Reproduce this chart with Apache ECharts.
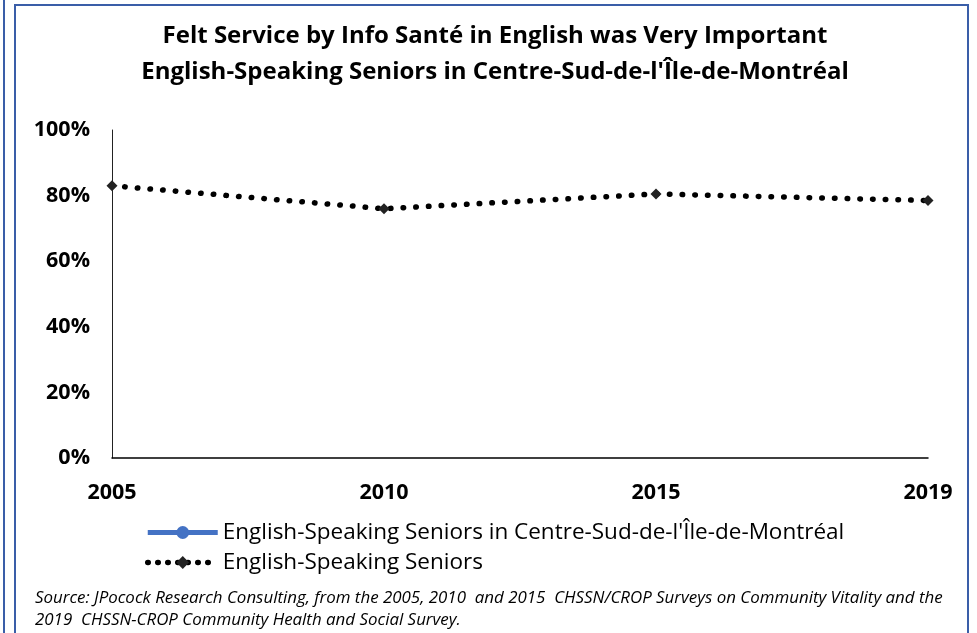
<!DOCTYPE html>
<html><head><meta charset="utf-8">
<script src="https://cdn.jsdelivr.net/npm/echarts@6/dist/echarts.min.js"></script>
<style>html,body{margin:0;padding:0;background:#fff}#c{width:977px;height:633px}</style>
</head><body><div id="c"></div>
<script>
const categories = ['2005', '2010', '2015', '2019'];
const regionValues = [null, null, null, null];
const seniorsValues = [83, 76, 80.5, 78.5];
const seriesNames = ["English-Speaking Seniors in Centre-Sud-de-l'Île-de-Montréal", 'English-Speaking Seniors'];
const titleLines = ['Felt Service by Info Santé in English was Very Important', "English-Speaking Seniors in Centre-Sud-de-l'Île-de-Montréal"];
const sourceLines = ['Source: JPocock Research Consulting, from the 2005, 2010  and 2015  CHSSN/CROP Surveys on Community Vitality and the', '2019  CHSSN-CROP Community Health and Social Survey.'];

const font = '"Open Sans", sans-serif';
const chart = echarts.init(document.getElementById('c'));
chart.setOption({
  animation: false,
  title: {
    text: titleLines.join('\n'),
    left: 490, top: 13, textAlign: 'center',
    textStyle: { fontFamily: font, fontSize: 24, fontWeight: 'bold', color: '#000', lineHeight: 36 }
  },
  grid: { left: 112, right: 49, top: 130, bottom: 175 },
  xAxis: {
    type: 'category', data: categories, boundaryGap: false,
    axisLine: { lineStyle: { color: '#000', width: 1.5 } },
    axisTick: { show: false },
    axisLabel: { fontFamily: font, fontSize: 21.5, fontWeight: 'bold', color: '#000', margin: 24 }
  },
  yAxis: {
    type: 'value', min: 0, max: 100, interval: 20,
    axisLine: { show: true, lineStyle: { color: '#222', width: 1 } },
    axisTick: { show: false },
    splitLine: { show: false },
    axisLabel: { fontFamily: font, fontSize: 21.5, fontWeight: 'bold', color: '#000', margin: 22, formatter: '{value}%' }
  },
  legend: {
    orient: 'vertical', left: 140, top: 516, itemGap: 7, itemWidth: 70, itemHeight: 16,
    textStyle: { fontFamily: font, fontSize: 22.5, color: '#000' },
    data: [
      { name: seriesNames[0], lineStyle: { width: 5 } },
      { name: seriesNames[1], lineStyle: { type: [0.5, 9.5], width: 5.5, cap: 'round' } }
    ]
  },
  graphic: [
    { type: 'line', shape: { x1: 4, y1: 0, x2: 4, y2: 633 }, style: { stroke: '#3a5ea8', lineWidth: 2 } },
    { type: 'polyline', shape: { points: [[15, 633], [15, 5], [968, 5], [968, 633]] }, style: { stroke: '#3a5ea8', lineWidth: 2, fill: null } },
    { type: 'text', left: 35, top: 587, style: { text: sourceLines.join('\n'), fontFamily: font, fontSize: 16.9, fontStyle: 'italic', fill: '#000', lineHeight: 22 } }
  ],
  series: [
    { name: seriesNames[0], type: 'line', data: regionValues, symbol: 'circle', symbolSize: 13,
      lineStyle: { color: '#4472c4', width: 5 }, itemStyle: { color: '#4472c4' } },
    { name: seriesNames[1], type: 'line', data: seniorsValues, symbol: 'diamond', symbolSize: 11,
      lineStyle: { color: '#000', width: 5.5, type: [0.5, 12.2], cap: 'round' }, itemStyle: { color: '#222' } }
  ]
});
</script></body></html>
